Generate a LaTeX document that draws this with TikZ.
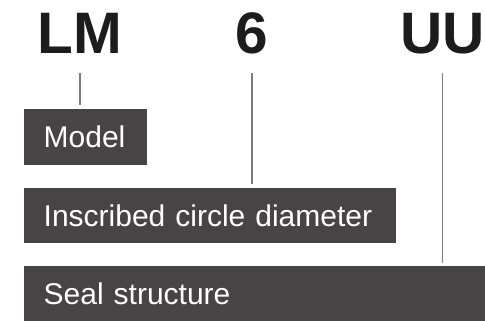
\documentclass[tikz,border=0pt]{standalone}
\usepackage{fontspec}
\setmainfont{Liberation Sans}
\definecolor{boxgray}{HTML}{484445}
\definecolor{linegray}{HTML}{7C7C7C}
\definecolor{titleblack}{HTML}{1E1B1C}
\begin{document}
\begin{tikzpicture}[x=1pt,y=-1pt,
  title/.style={anchor=base,inner sep=0pt,text=titleblack,font=\fontsize{58.5}{60}\selectfont\bfseries},
  box/.style={anchor=north west,fill=boxgray,text=white,inner xsep=19.5pt,inner ysep=0pt,
    text height=38.7pt,text depth=16.8pt,align=left,font=\fontsize{30}{36}\selectfont},
  lead/.style={draw=linegray,line width=1.2pt,shorten >=3.5pt}]
\useasboundingbox[fill=white] (0,0) rectangle (485,321);
\node[title] (tLM) at (80,53.5) {LM};
\node[title] (t6) at (252,53.5) {6};
\node[title] (tUU) at (442.5,53.5) {UU};
\node[box,text width=84pt] (mdl) at (24,109) {Model};
\node[box,text width=333pt] (icd) at (24,187.3) {Inscribed circle diameter};
\node[box,text width=422pt] (seal) at (24,265.7) {Seal structure};
\coordinate (c1) at ([yshift=-19.5pt]tLM.base);
\coordinate (c2) at ([yshift=-19.5pt]t6.base);
\coordinate (c3) at ([yshift=-19.5pt]tUU.base);
\draw[lead] (c1) -- (c1 |- mdl.north);
\draw[lead] (c2) -- (c2 |- icd.north);
\draw[lead,shorten >=2.7pt] (c3) -- (c3 |- seal.north);
\end{tikzpicture}
\end{document}
